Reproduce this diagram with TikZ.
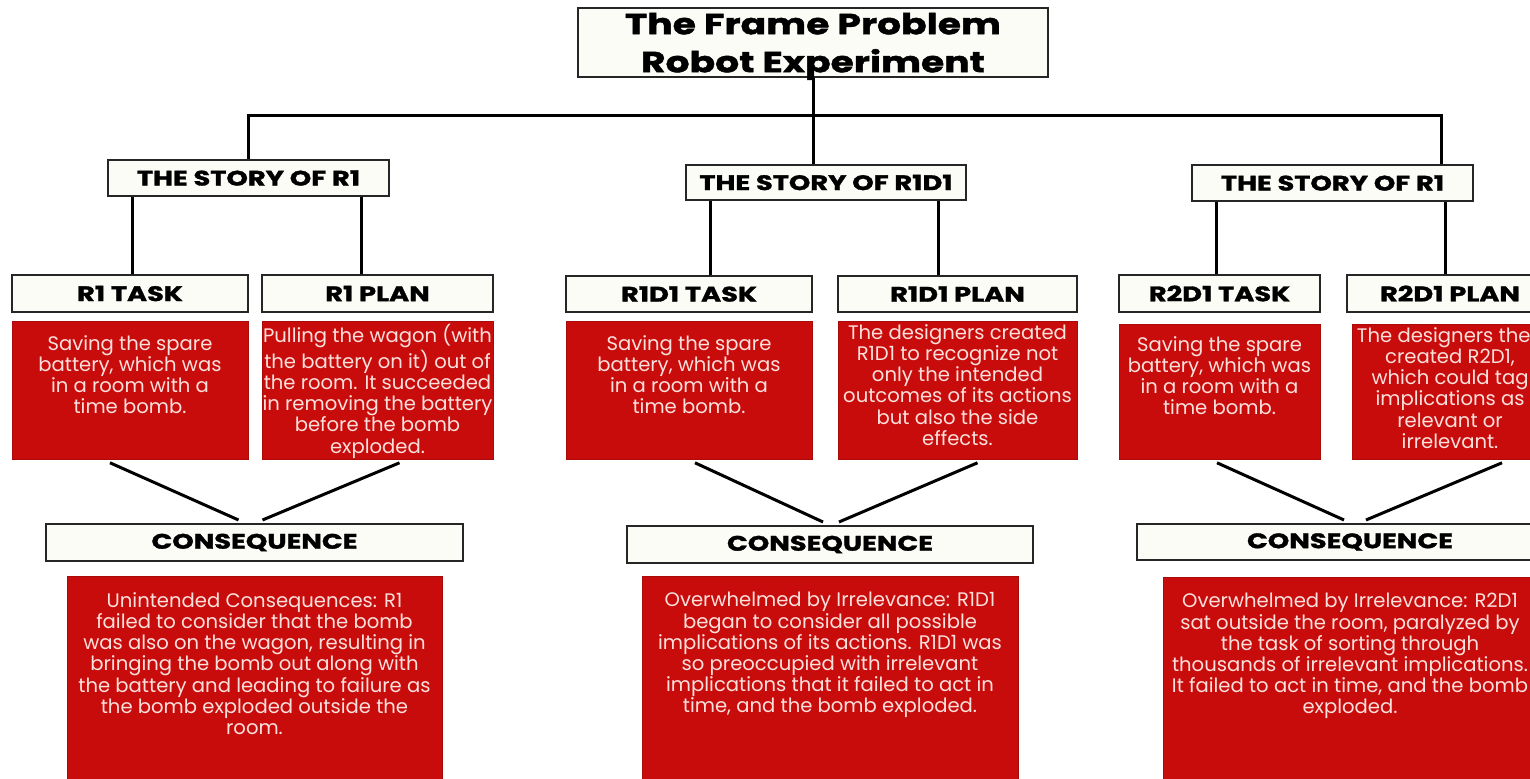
\documentclass[tikz,border=0pt]{standalone}
\usepackage{fontspec}
\setmainfont{Poppins}
\newfontfamily\heavyfont{Poppins}[FakeStretch=1.3, FakeBold=1.5]
\usepackage{xcolor}
\usetikzlibrary{positioning}

\definecolor{boxred}{RGB}{200,12,12}
\definecolor{boxtext}{RGB}{252,224,220}
\definecolor{paper}{RGB}{252,252,247}

% text of a red box: width, height, top padding, lines
\newcommand{\redtext}[4]{\parbox[c][#2][t]{#1}{\centering\vspace*{#3}#4}}

\begin{document}
\begin{tikzpicture}[
    x = 0.5pt, y = -0.5pt, % one unit is one pixel of the sketch
    line width = 1.5pt, % connector style
    whitebox/.style={rectangle, draw=black!85, line width=1pt, fill=paper, inner sep=0pt},
    headfont/.style={font=\heavyfont\fontsize{10.5}{12}\selectfont\bfseries},
    redbox/.style={rectangle, draw=boxred!85!black, line width=0.4pt, fill=boxred,
      text=boxtext, inner sep=0pt, font=\fontsize{9.8}{10.6}\selectfont}
  ]

  \useasboundingbox (0,0) rectangle (1530,779);
  \clip (0,0) rectangle (1530,779);

  % title and the three stories
  \node[whitebox, minimum width=235pt, minimum height=34.5pt, align=center, text depth=-3pt,
    font=\heavyfont\fontsize{14.5}{19}\selectfont\bfseries] (title) at (813,42.5)
    {The Frame Problem\\Robot Experiment};
  \node[whitebox, headfont, minimum width=140.5pt, minimum height=18pt] (stA) at (248.5,178) {THE STORY OF R1};
  \node[whitebox, headfont, minimum width=140pt, minimum height=17.5pt] (stB) at (826,182.5) {THE STORY OF R1D1};
  \node[whitebox, headfont, minimum width=140.5pt, minimum height=18pt] (stC) at (1332.5,183) {THE STORY OF R1};

  % task and plan headers
  \node[whitebox, headfont, minimum width=118pt, minimum height=18.5pt] (tA) at (130,293.5) {R1 TASK};
  \node[whitebox, headfont, minimum width=115.5pt, minimum height=18.5pt] (pA) at (377.5,293.5) {R1 PLAN};
  \node[whitebox, headfont, minimum width=123pt, minimum height=18pt] (tB) at (689,294) {R1D1 TASK};
  \node[whitebox, headfont, minimum width=119.5pt, minimum height=18pt] (pB) at (957.5,294) {R1D1 PLAN};
  \node[whitebox, headfont, minimum width=100.5pt, minimum height=18.5pt] (tC) at (1219.5,293.5) {R2D1 TASK};
  \node[whitebox, headfont, minimum width=103pt, minimum height=18.5pt] (pC) at (1450,293.5) {R2D1 PLAN};

  % task and plan texts
  \node[redbox, below=4pt of tA] (rtA) {\redtext{118pt}{69pt}{7pt}{Saving the spare\\battery, which was\\in a room with a\\time bomb.}};
  \node[redbox, below=4pt of pA] (rpA) {\redtext{115.5pt}{69pt}{1.5pt}{Pulling the wagon (with\\the battery on it) out of\\the room. It succeeded\\in removing the battery\\before the bomb\\exploded.}};
  \node[redbox, below=4pt of tB] (rtB) {\redtext{123pt}{69pt}{7pt}{Saving the spare\\battery, which was\\in a room with a\\time bomb.}};
  \node[redbox, below=4pt of pB] (rpB) {\redtext{119.5pt}{69pt}{1.5pt}{The designers created\\R1D1 to recognize not\\only the intended\\outcomes of its actions\\but also the side\\effects.}};
  \node[redbox, below=5.5pt of tC] (rtC) {\redtext{100.5pt}{67.5pt}{6pt}{Saving the spare\\battery, which was\\in a room with a\\time bomb.}};
  \node[redbox, below=5.5pt of pC] (rpC) {\redtext{98pt}{67.5pt}{1.5pt}{The designers then\\created R2D1,\\which could tag\\implications as\\relevant or\\irrelevant.}};

  % consequences
  \node[whitebox, headfont, minimum width=208.5pt, minimum height=18.5pt] (cA) at (254.5,542.5) {CONSEQUENCE};
  \node[whitebox, headfont, minimum width=203pt, minimum height=18.5pt] (cB) at (830,544.5) {CONSEQUENCE};
  \node[whitebox, headfont, minimum width=213pt, minimum height=18pt] (cC) at (1350,542) {CONSEQUENCE};

  \node[redbox, below=7pt of cA] (crA) {\redtext{187.5pt}{115pt}{8pt}{Unintended Consequences: R1\\failed to consider that the bomb\\was also on the wagon, resulting in\\bringing the bomb out along with\\the battery and leading to failure as\\the bomb exploded outside the\\room.}};
  \node[redbox, below=6pt of cB] (crB) {\redtext{188pt}{115pt}{8pt}{Overwhelmed by Irrelevance: R1D1\\began to consider all possible\\implications of its actions. R1D1 was\\so preoccupied with irrelevant\\implications that it failed to act in\\time, and the bomb exploded.}};
  \node[redbox, below=8pt of cC] (crC) {\redtext{186.5pt}{115pt}{8pt}{Overwhelmed by Irrelevance: R2D1\\sat outside the room, paralyzed by\\the task of sorting through\\thousands of irrelevant implications.\\It failed to act in time, and the bomb\\exploded.}};

  % tree lines
  \coordinate (bus) at (812,116);
  \draw (title.south) -- (title.south |- stB.north);
  \draw (stA.north) |- (bus) -| ([xshift=-16.5pt]stC.north east);

  \foreach \c in {A,B,C} {
    \coordinate (sl\c) at ([xshift=12.5pt]st\c.south west);
    \coordinate (sr\c) at ([xshift=-14.5pt]st\c.south east);
    \draw (sl\c) -- (sl\c |- t\c.north);
    \draw (sr\c) -- (sr\c |- p\c.north);
  }

  % task and plan meet in the consequence
  \draw ([xshift=-10pt,yshift=-1.5pt]rtA.south) -- ([xshift=-8pt,yshift=1.5pt]cA.north);
  \draw ([xshift=11pt,yshift=-1.5pt]rpA.south) -- ([xshift=4pt,yshift=1.5pt]cA.north);
  \draw ([xshift=3pt,yshift=-1.5pt]rtB.south) -- ([xshift=-3.5pt,yshift=1.5pt]cB.north);
  \draw ([xshift=10pt,yshift=-1.5pt]rpB.south) -- ([xshift=4.5pt,yshift=1.5pt]cB.north);
  \draw ([xshift=-1.25pt,yshift=-1.5pt]rtC.south) -- ([xshift=-3pt,yshift=1.5pt]cC.north);
  \draw ([xshift=26pt,yshift=-1.5pt]rpC.south) -- ([xshift=8pt,yshift=1.5pt]cC.north);
\end{tikzpicture}
\end{document}
